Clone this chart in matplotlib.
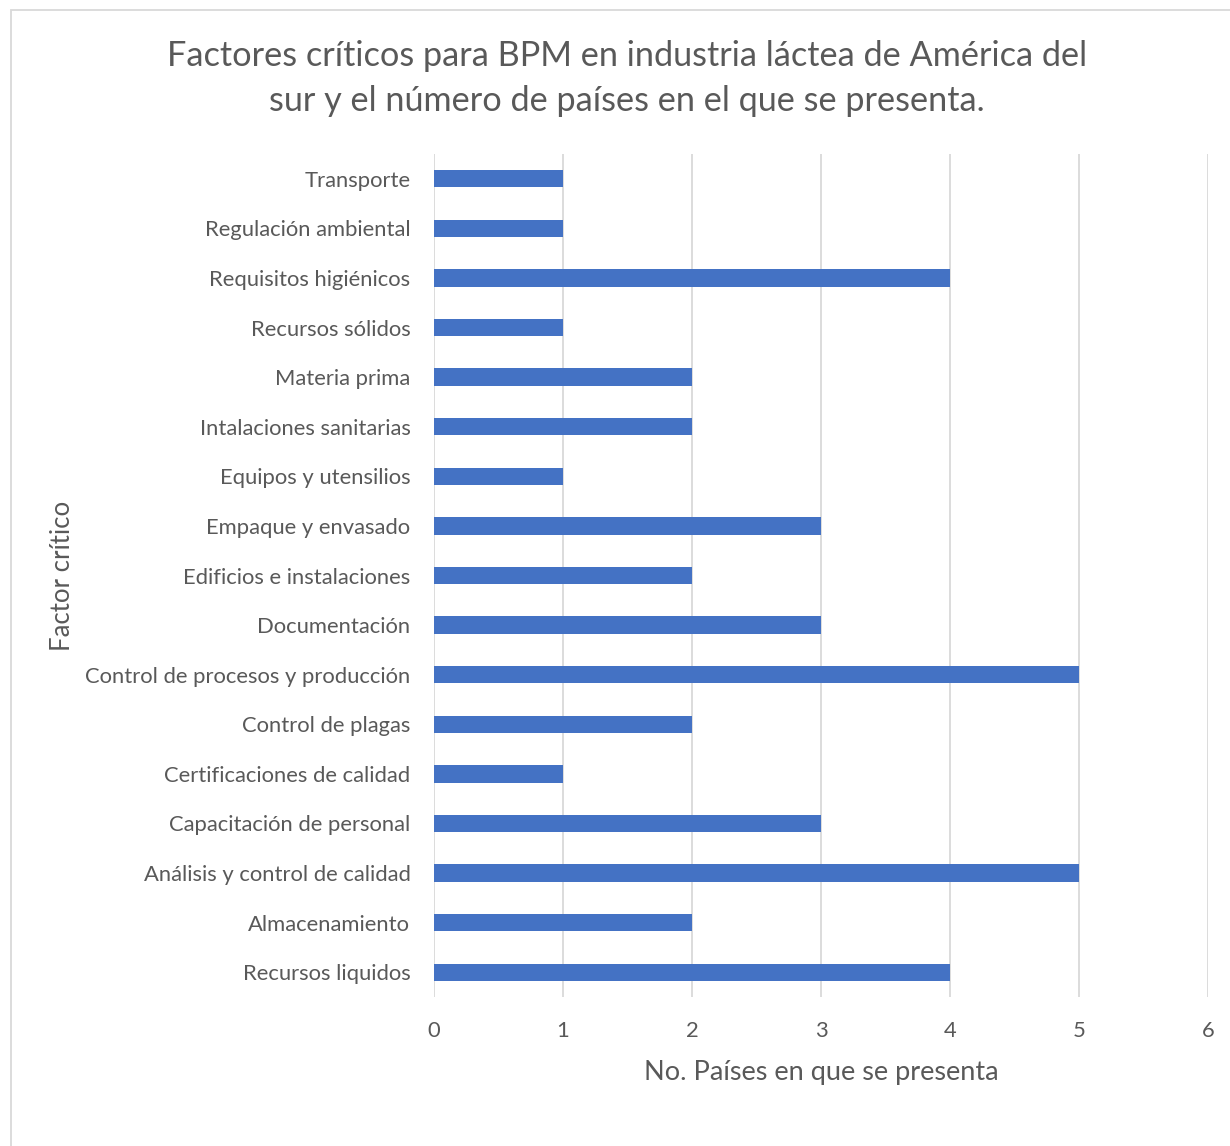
import matplotlib
matplotlib.use("Agg")
import matplotlib.pyplot as plt
from matplotlib.patches import Rectangle

plt.rcParams['font.family'] = ['Lato', 'DejaVu Sans']

categories = [
    "Recursos liquidos",
    "Almacenamiento",
    "Análisis y control de calidad",
    "Capacitación de personal",
    "Certificaciones de calidad",
    "Control de plagas",
    "Control de procesos y producción",
    "Documentación",
    "Edificios e instalaciones",
    "Empaque y envasado",
    "Equipos y utensilios",
    "Intalaciones sanitarias",
    "Materia prima",
    "Recursos sólidos",
    "Requisitos higiénicos",
    "Regulación ambiental",
    "Transporte",
]
values = [4, 2, 5, 3, 1, 2, 5, 3, 2, 3, 1, 2, 2, 1, 4, 1, 1]
x_ticks = [0, 1, 2, 3, 4, 5, 6]

title = "Factores críticos para BPM en industria láctea de América del\nsur y el número de países en el que se presenta."
xlabel = "No. Países en que se presenta"
ylabel = "Factor crítico"

text_color = "#595959"
bar_color = "#4472C4"
grid_color = "#D9D9D9"

fig = plt.figure(figsize=(12.3, 11.46), dpi=100)
ax = fig.add_axes([434/1230, 1-997/1146, (1208-434)/1230, (997-154)/1146])

y = list(range(len(categories)))
ax.barh(y, values, height=0.35, color=bar_color, zorder=3)
ax.set_yticks(y)
ax.set_yticklabels(categories)
ax.set_ylim(-0.5, len(categories) - 0.5)
ax.set_xlim(0, 6)
ax.set_xticks(x_ticks)
ax.set_xticklabels([str(t) for t in x_ticks])
ax.grid(axis='x', color=grid_color, linewidth=1.3, zorder=0)
ax.tick_params(axis='both', length=0, labelsize=15.8, colors=text_color)
ax.tick_params(axis='x', pad=17)
ax.tick_params(axis='y', pad=17)
for s in ax.spines.values():
    s.set_visible(False)

ax.set_xlabel(xlabel, fontsize=19.5, color=text_color, labelpad=14)
fig.text(62/1230, 1-576/1146, ylabel, rotation=90, fontsize=18.5, color=text_color,
         ha='center', va='center')
fig.text(627/1230, 1-78.5/1146, title, fontsize=24.7, color=text_color,
         ha='center', va='center', linespacing=1.5)

fig.patches.append(Rectangle((11/1230, -0.1), 1.2, 1-10/1146+0.1, transform=fig.transFigure,
                             fill=False, edgecolor=grid_color, linewidth=1.3))

fig.savefig("out.png", dpi=100, facecolor="white")
